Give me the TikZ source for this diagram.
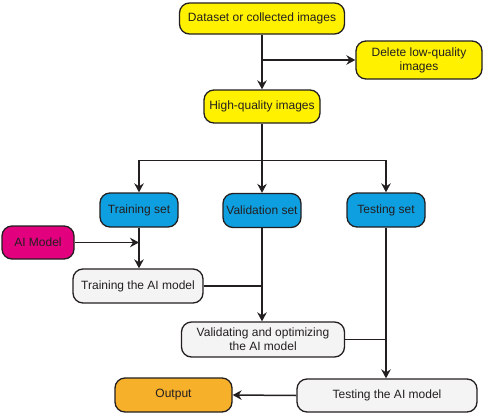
\documentclass[tikz,border=0pt]{standalone}
\usepackage{fontspec}
\setmainfont{Liberation Sans}
\usetikzlibrary{arrows.meta}
\definecolor{cyel}{HTML}{FFF100}
\definecolor{cblue}{HTML}{0E9FE0}
\definecolor{cmag}{HTML}{E2007E}
\definecolor{corg}{HTML}{F6B02A}
\definecolor{cgry}{HTML}{F4F4F4}
\definecolor{cline}{HTML}{231F20}
\tikzset{
  box/.style={draw=cline, line width=1.3pt, rounded corners=10pt, align=center,
    inner sep=0pt, font=\fontsize{12}{14}\selectfont, text=cline},
  conn/.style={draw=cline, line width=1.5pt},
  arr/.style={conn, -{Stealth[length=9pt,width=9.5pt,inset=3pt]}}
}
\begin{document}
\begin{tikzpicture}[x=1pt,y=-1pt]
\useasboundingbox (0,0) rectangle (484,415);
\node[box, fill=cyel, minimum width=165pt, minimum height=31pt] (ds) at (262,18.5) {Dataset or collected images};
\node[box, fill=cyel, minimum width=126pt, minimum height=38pt] (del) at (419,60) {Delete low-quality\\images};
\node[box, fill=cyel, minimum width=116pt, minimum height=33pt] (hq) at (262,106.5) {High-quality images};
\node[box, fill=cblue, minimum width=78pt, minimum height=34pt] (tr) at (139,210) {Training set};
\node[box, fill=cblue, minimum width=78pt, minimum height=34pt] (va) at (262,210.5) {Validation set};
\node[box, fill=cblue, minimum width=78pt, minimum height=34pt] (te) at (386,210) {Testing set};
\node[box, fill=cmag, minimum width=72pt, minimum height=33pt] (ai) at (38,242.5) {AI Model};
\node[box, fill=cgry, minimum width=130pt, minimum height=34pt] (tam) at (138,286) {Training the AI model};
\node[box, fill=cgry, minimum width=163pt, minimum height=35pt] (vo) at (263,339.5) {Validating and optimizing\\the AI model};
\node[box, fill=cgry, minimum width=180pt, minimum height=33pt] (ttm) at (387,395.5) {Testing the AI model};
\node[box, fill=corg, minimum width=117pt, minimum height=34pt] (out) at (173.5,395) {Output};
\coordinate (br) at (262,160.7);
\draw[arr] (ds.south) -- (hq.north);
\draw[arr] (ds.south |- del.west) -- (del.west);
\draw[conn] (hq.south) -- (br);
\draw[arr] (br) -| (tr.north);
\draw[arr] (br) -| (te.north);
\draw[arr] (br) -- (va.north);
\draw[arr] (ai.east) -- (tr.south |- ai.east);
\draw[arr] (tr.south) -- (tr.south |- tam.north);
\draw[conn] (tam.east) -- (va.south |- tam.east);
\draw[arr] (va.south) -- (va.south |- vo.north);
\draw[conn] (vo.east) -- (te.south |- vo.east);
\draw[arr] (te.south) -- (te.south |- ttm.north);
\draw[arr] (ttm.west) -- (out.east);
\end{tikzpicture}
\end{document}
